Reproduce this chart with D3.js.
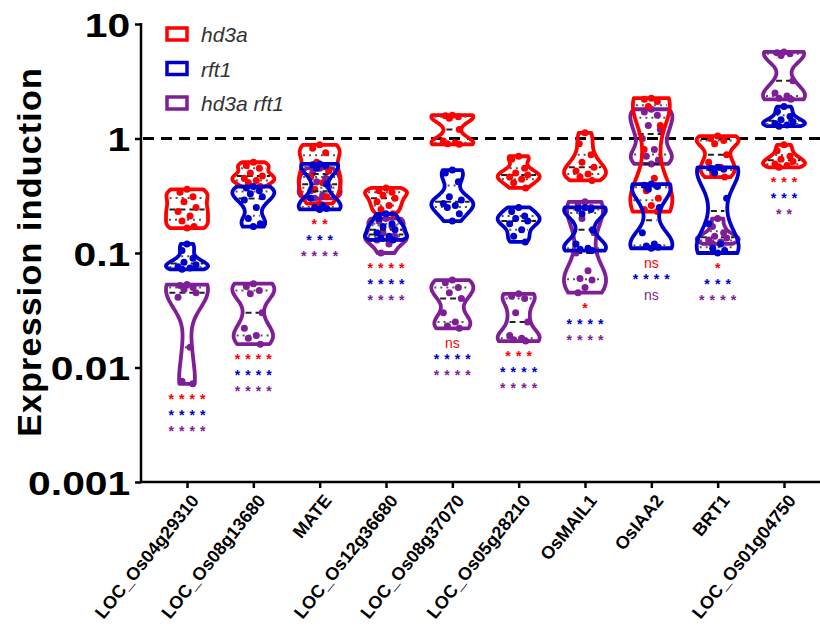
<!DOCTYPE html>
<html>
<head>
<meta charset="utf-8">
<script src="https://cdn.jsdelivr.net/npm/d3@7"></script>
<style>
  body { margin: 0; background: #fff; }
  svg { font-family: "Liberation Sans", Arial, Helvetica, sans-serif; }
</style>
</head>
<body>
<svg id="chart" width="820" height="628"></svg>
<script>
// genes on the x axis
var genes = ["LOC_Os04g29310", "LOC_Os08g13680", "MATE", "LOC_Os12g36680", "LOC_Os08g37070",
             "LOC_Os05g28210", "OsMAIL1", "OsIAA2", "BRT1", "LOC_Os01g04750"];
var groups = ["hd3a", "rft1", "hd3a rft1"];
var groupColors = ["#ff0000", "#0000cc", "#7f1e96"];
var yTicks = [0.001, 0.01, 0.1, 1, 10];

// replicate values (expression induction), one list per gene
var hd3aValues = [
    [0.36, 0.34, 0.31, 0.28, 0.25, 0.23, 0.21, 0.19, 0.17, 0.165],
    [0.62, 0.58, 0.55, 0.5, 0.47, 0.45, 0.43, 0.41, 0.38],
    [0.88, 0.82, 0.75, 0.62, 0.52, 0.46, 0.41, 0.36, 0.31, 0.27],
    [0.37, 0.35, 0.34, 0.32, 0.3, 0.28, 0.26, 0.24, 0.22],
    [1.6, 1.58, 1.55, 1.5, 1.2, 0.95, 0.92, 0.9, 0.89],
    [0.7, 0.66, 0.55, 0.5, 0.48, 0.46, 0.44, 0.41, 0.37],
    [1.12, 0.9, 0.72, 0.62, 0.56, 0.52, 0.49, 0.46, 0.43],
    [2.25, 2.2, 2.1, 1.9, 1.3, 0.8, 0.45, 0.35, 0.3, 0.26, 0.24, 0.23],
    [1.05, 1.0, 0.96, 0.9, 0.72, 0.62, 0.56, 0.5, 0.46],
    [0.88, 0.78, 0.7, 0.66, 0.63, 0.6, 0.58, 0.56]
];
var rft1Values = [
    [0.12, 0.105, 0.09, 0.083, 0.079, 0.076, 0.074, 0.072],
    [0.38, 0.37, 0.35, 0.33, 0.31, 0.29, 0.25, 0.2, 0.18, 0.17],
    [0.6, 0.59, 0.58, 0.55, 0.4, 0.3, 0.26, 0.25, 0.245, 0.24],
    [0.22, 0.2, 0.18, 0.17, 0.16, 0.15, 0.14, 0.135, 0.13],
    [0.53, 0.5, 0.42, 0.31, 0.29, 0.27, 0.26, 0.25, 0.22, 0.19],
    [0.25, 0.23, 0.21, 0.2, 0.19, 0.18, 0.16, 0.14, 0.125],
    [0.25, 0.245, 0.24, 0.22, 0.16, 0.12, 0.11, 0.108, 0.105],
    [0.4, 0.39, 0.38, 0.36, 0.25, 0.15, 0.12, 0.115, 0.112, 0.11],
    [0.56, 0.55, 0.54, 0.5, 0.3, 0.18, 0.12, 0.11, 0.105, 0.1],
    [1.9, 1.72, 1.56, 1.46, 1.4, 1.35, 1.31, 1.28]
];
var doubleValues = [
    [0.053, 0.052, 0.05, 0.048, 0.045, 0.041, 0.015, 0.0076, 0.0072],
    [0.054, 0.051, 0.047, 0.044, 0.03, 0.022, 0.019, 0.018, 0.016],
    [0.55, 0.5, 0.45, 0.42, 0.38, 0.35, 0.32, 0.3],
    [0.2, 0.19, 0.17, 0.15, 0.14, 0.13, 0.12, 0.1],
    [0.058, 0.055, 0.05, 0.045, 0.04, 0.03, 0.025, 0.023, 0.022],
    [0.044, 0.042, 0.04, 0.03, 0.025, 0.019, 0.018, 0.0175, 0.017],
    [0.28, 0.27, 0.25, 0.2, 0.15, 0.1, 0.07, 0.06, 0.058, 0.05, 0.045],
    [1.8, 1.7, 1.6, 1.3, 1.2, 1.0, 0.8, 0.7, 0.65, 0.6],
    [0.2, 0.17, 0.15, 0.14, 0.135, 0.13, 0.125, 0.12],
    [5.7, 5.6, 5.5, 5.3, 3.2, 2.5, 2.35, 2.25, 2.2]
];

// significance vs wild type
var hd3aSig = ["****", "****", "**", "****", "ns", "***", "*", "ns", "*", "***"];
var rft1Sig = ["****", "****", "***", "****", "****", "****", "****", "****", "***", "***"];
var doubleSig = ["****", "****", "****", "****", "****", "****", "****", "ns", "****", "**"];

var allValues = [hd3aValues, rft1Values, doubleValues];
var allSig = [hd3aSig, rft1Sig, doubleSig];

var svg = d3.select("#chart");

var y = d3.scaleLog().domain([0.001, 10]).range([482, 24]);
var x = d3.scalePoint().domain(genes).range([187, 784]);

var halfWidth = 21;

// kernel density in log space, truncated at min/max
function violinProfile(vals) {
    var logs = vals.map(function (v) { return Math.log10(v); }).sort(d3.ascending);
    var lo = logs[0], hi = logs[logs.length - 1];
    var sd = d3.deviation(logs);
    var bw = 0.65 * 1.06 * sd * Math.pow(logs.length, -0.2);
    var steps = 40;
    var prof = d3.range(steps + 1).map(function (i) {
        var t = lo + (hi - lo) * i / steps;
        var dens = d3.sum(logs, function (l) {
            var u = (t - l) / bw;
            return Math.exp(-0.5 * u * u);
        });
        return {t: t, d: dens};
    });
    var maxD = d3.max(prof, function (p) { return p.d; });
    prof.forEach(function (p) { p.w = Math.max(4, p.d / maxD * halfWidth); });
    return {prof: prof, logs: logs};
}

function widthAt(prof, t) {
    for (var i = 1; i < prof.length; i++) {
        if (prof[i].t >= t) {
            var a = prof[i - 1], b = prof[i];
            var f = (t - a.t) / ((b.t - a.t) || 1);
            return a.w + (b.w - a.w) * f;
        }
    }
    return prof[prof.length - 1].w;
}

// axes
var yAxis = d3.axisLeft(y).tickValues(yTicks).tickSize(6).tickPadding(3)
    .tickFormat(function (d) { return d >= 1 ? d3.format("d")(d) : d3.format("")(d); });
var gy = svg.append("g").attr("transform", "translate(141,0)").call(yAxis);
gy.select(".domain").remove();
gy.selectAll(".tick line").attr("stroke", "#000").attr("stroke-width", 2.5);
gy.selectAll(".tick text").attr("font-size", 34).attr("font-weight", "bold").attr("fill", "#000")
    .attr("transform", "scale(1.2,1)").attr("dy", "0.36em");
svg.append("line").attr("x1", 141).attr("x2", 141).attr("y1", 23).attr("y2", 483)
    .attr("stroke", "#000").attr("stroke-width", 2.5);

var xAxis = d3.axisBottom(x).tickSize(6).tickFormat("");
var gx = svg.append("g").attr("transform", "translate(0,482)").call(xAxis);
gx.select(".domain").remove();
gx.selectAll(".tick line").attr("stroke", "#000").attr("stroke-width", 2.5);
svg.append("line").attr("x1", 140).attr("x2", 820).attr("y1", 482).attr("y2", 482)
    .attr("stroke", "#000").attr("stroke-width", 2.5);

svg.append("g").selectAll("text").data(genes).join("text")
    .attr("transform", function (d) { return "translate(" + (x(d) + 8) + ",497) rotate(-51)"; })
    .attr("text-anchor", "end")
    .attr("dy", "0.35em")
    .attr("font-size", 18).attr("font-weight", "bold")
    .text(function (d) { return d; });

svg.append("text")
    .attr("transform", "translate(41,252) rotate(-90)")
    .attr("text-anchor", "middle")
    .attr("font-size", 34).attr("font-weight", "bold")
    .attr("letter-spacing", 1.2)
    .text("Expression induction");

// reference line at 1
svg.append("line").attr("x1", 143).attr("x2", 820).attr("y1", y(1)).attr("y2", y(1))
    .attr("stroke", "#000").attr("stroke-width", 3).attr("stroke-dasharray", "11,7");

// violins: purple underneath, then red, then blue
var drawOrder = [2, 0, 1];
var area = d3.area().curve(d3.curveCatmullRom)
    .y(function (p) { return y(Math.pow(10, p.t)); });
var dotOffsets = [0, -7, 6, -3, 9, -9, 3, -5, 7];

drawOrder.forEach(function (g) {
    var layer = svg.append("g");
    genes.forEach(function (gene, i) {
        var cx = x(gene);
        var vp = violinProfile(allValues[g][i]);
        var gg = layer.append("g");
        gg.append("path")
            .datum(vp.prof)
            .attr("d", area.x0(function (p) { return cx - p.w; }).x1(function (p) { return cx + p.w; }))
            .attr("fill", "none")
            .attr("stroke", groupColors[g]).attr("stroke-width", 3.8)
            .attr("stroke-linejoin", "round");
        // quartiles and median
        [0.25, 0.75].forEach(function (q) {
            var t = d3.quantile(vp.logs, q);
            var w = widthAt(vp.prof, t);
            gg.append("line").attr("x1", cx - w + 3).attr("x2", cx + w - 3)
                .attr("y1", y(Math.pow(10, t))).attr("y2", y(Math.pow(10, t)))
                .attr("stroke", "#555").attr("stroke-width", 2).attr("stroke-dasharray", "2,4");
        });
        var tm = d3.quantile(vp.logs, 0.5);
        var wm = widthAt(vp.prof, tm);
        gg.append("line").attr("x1", cx - wm + 3).attr("x2", cx + wm - 3)
            .attr("y1", y(Math.pow(10, tm))).attr("y2", y(Math.pow(10, tm)))
            .attr("stroke", "#222").attr("stroke-width", 2).attr("stroke-dasharray", "6,4");
        gg.selectAll("circle").data(allValues[g][i]).join("circle")
            .attr("cx", function (d, k) {
                var w = widthAt(vp.prof, Math.log10(d));
                var off = dotOffsets[k % dotOffsets.length];
                return cx + Math.max(-w + 2, Math.min(w - 2, off));
            })
            .attr("cy", function (d) { return y(d); })
            .attr("r", 3.5)
            .attr("fill", groupColors[g]);
    });
});

// significance marks under each gene
genes.forEach(function (gene, i) {
    var bottom = d3.max(allValues, function (gv) { return y(d3.min(gv[i])); });
    allSig.forEach(function (sig, g) {
        var cy = bottom + 12 + g * 16;
        var s = sig[i];
        if (s === "ns") {
            svg.append("text").attr("x", x(gene)).attr("y", cy + 7.5)
                .attr("text-anchor", "middle").attr("font-size", 14)
                .attr("fill", groupColors[g]).text(s);
        } else {
            svg.append("text").attr("x", x(gene) + 2.5).attr("y", cy + 8)
                .attr("text-anchor", "middle").attr("font-size", 14).attr("font-weight", "bold")
                .attr("letter-spacing", 5.1)
                .attr("fill", groupColors[g]).text(s);
        }
    });
});

// legend
var legend = svg.append("g").attr("transform", "translate(167,28)");
groups.forEach(function (name, g) {
    var row = legend.append("g").attr("transform", "translate(0," + (g * 34.5) + ")");
    row.append("rect").attr("x", 0).attr("y", 0).attr("width", 20).attr("height", 12)
        .attr("fill", "none").attr("stroke", groupColors[g]).attr("stroke-width", 3.5);
    row.append("text").attr("x", 34).attr("y", 14)
        .attr("font-size", 21).attr("font-style", "italic").attr("fill", "#333")
        .text(name);
});
</script>
</body>
</html>
